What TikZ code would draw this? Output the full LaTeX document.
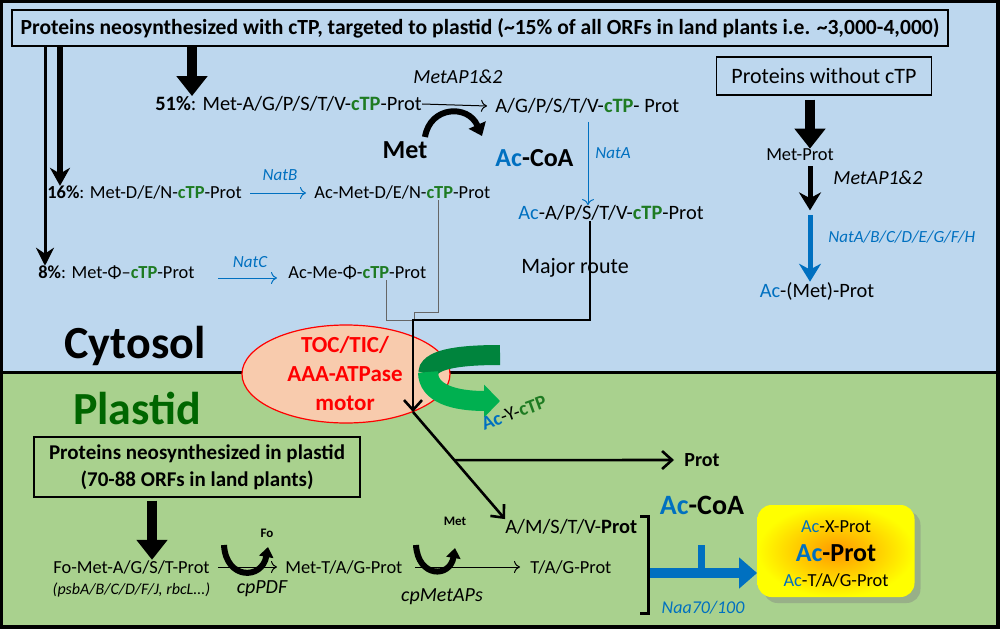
\documentclass[tikz,border=0pt]{standalone}
\usepackage{fontspec}
\setmainfont{Carlito}
\usetikzlibrary{arrows.meta,positioning,shapes.geometric,shadows,calc}

\definecolor{cytoblue}{HTML}{BDD7EE}
\definecolor{plastgreen}{HTML}{A9D18E}
\definecolor{acblue}{HTML}{0070C0}
\definecolor{ctpgreen}{HTML}{1E7B22}
\definecolor{pltxt}{HTML}{006600}
\definecolor{motorfill}{HTML}{F8CBAD}
\definecolor{ribdark}{HTML}{00843D}
\definecolor{riblight}{HTML}{00B050}

\newcommand{\fsz}[1]{\fontsize{#1}{#1}\selectfont}
\newcommand{\Ac}{\textcolor{acblue}{Ac}}
\newcommand{\cTP}{\textcolor{ctpgreen}{\bfseries cTP}}

\tikzset{
  frame/.style={draw, line width=0.6pt, inner sep=0pt},
  txt/.style={inner sep=0pt, font=\fsz{10.2}},
  sml/.style={inner sep=0pt, font=\fsz{9.2}},
  enz/.style={inner sep=0pt, font=\fsz{10}\itshape},
  nat/.style={inner sep=0pt, font=\fsz{8.5}\itshape, text=acblue},
  big/.style={inner sep=0pt, font=\fsz{13}\bfseries},
  blockarr/.style={line width=5pt, -{Triangle[length=10pt,width=15pt]}},
  thinarr/.style={line width=0.5pt, -{To[length=3pt,width=6pt]}},
  natarr/.style={thinarr, acblue},
  route/.style={line width=1.3pt},
  grayln/.style={line width=0.4pt, black!60},
  uarr/.style={line width=3pt, -{Triangle[length=5pt,width=7pt]}}
}

\begin{document}
\begin{tikzpicture}[x=0.5pt,y=-0.5pt]
\useasboundingbox (0,0) rectangle (1000,642);
% compartments
\fill[cytoblue] (0,0) rectangle (1000,372);
\fill[plastgreen] (0,372) rectangle (1000,628);
\draw[line width=1.5pt] (0,372) -- (1000,372);
\draw[line width=2pt] (1,1) rectangle (998,627);
\node[font=\fsz{23}\bfseries, inner sep=0pt] (cyto) at (135,346) {Cytosol};
\node[font=\fsz{23}\bfseries, text=pltxt, inner sep=0pt] (plast) at (137,408) {Plastid};

% cytosol, proteins with cTP
\node[frame, fill=cytoblue, minimum width=468pt, minimum height=18pt, font=\fsz{10.8}\bfseries] (ctpbox) at (480,28)
  {Proteins neosynthesized with cTP, targeted to plastid (\textasciitilde15\% of all ORFs in land plants i.e. \textasciitilde3,000-4,000)};
\node[txt, anchor=west] (m51) at (155,104) {\textbf{51\%}: Met-A/G/P/S/T/V-\cTP-Prot};
\node[txt, anchor=west] (agp) at (495,106) {A/G/P/S/T/V-\cTP- Prot};
\node[enz] (ap12) at (458,77) {MetAP1\&2};
\node[big] (metc) at (405,150) {Met};
\node[big, anchor=west] (acoa) at (495,158) {\Ac-CoA};
\node[nat, anchor=west] (nata) at (595,153) {NatA};
\node[txt, anchor=west] (acap) at (518,213) {\Ac-A/P/S/T/V-\cTP-Prot};
\node[sml, anchor=west] (m16) at (47,193) {\textbf{16\%}: Met-D/E/N-\cTP-Prot};
\node[sml, anchor=west] (acmde) at (314,193) {Ac-Met-D/E/N-\cTP-Prot};
\node[nat] (natb) at (280,175) {NatB};
\node[sml, anchor=west] (m8) at (38,273) {\textbf{8\%}: Met-Φ–\cTP-Prot};
\node[sml, anchor=west] (acmphi) at (288,273) {Ac-Me-Φ-\cTP-Prot};
\node[nat] (natc) at (250,262) {NatC};

\draw[blockarr] (ctpbox.south -| 192,0) -- (m51.north -| 192,0);
\draw[line width=1.5pt, -{Stealth[length=9pt,width=9pt]}] (ctpbox.south -| 45,0) -- (m8.north -| 45,0);
\draw[line width=3pt, -{Stealth[length=9pt,width=10pt]}] (ctpbox.south -| 60,0) -- (m16.north -| 60,0);
\draw[thinarr] (m51.east) -- ([xshift=-4pt]agp.west);
\draw[line width=3pt, -{Triangle[length=6pt,width=9pt]}] (425,137) .. controls (430,106) and (468,104) .. (482,136);
\draw[natarr] (agp.south -| 588,0) ++(0,8) -- (acap.north -| 588,0);
\draw[natarr] ([xshift=4pt]m16.east) -- ([xshift=-4pt]acmde.west);
\draw[natarr] (218,278) -- (277,278);

% cytosol, proteins without cTP
\node[frame, fill=cytoblue, minimum width=107.5pt, minimum height=19pt, font=\fsz{11}] (nocTP) at (824,76) {Proteins without cTP};
\node[sml] (metprot) at (800,155) {Met-Prot};
\node[enz, anchor=west] (ap12b) at (833,178) {MetAP1\&2};
\node[nat, anchor=west] (natall) at (828,237) {NatA/B/C/D/E/G/F/H};
\node[txt] (acmet) at (817,291) {\Ac-(Met)-Prot};
\draw[blockarr] (nocTP.south -| 810,0) ++(0,4) -- (metprot.north -| 810,0);
\draw[line width=2.5pt, -{Stealth[length=9pt,width=11pt]}] (metprot.south -| 810,0) ++(0,5) -- ++(0,44);
\draw[line width=2.5pt, acblue, -{Stealth[length=9pt,width=11pt]}] (810,215) -- (acmet.north -| 810,0);

% import machinery
\node[ellipse, draw=red, line width=0.6pt, fill=motorfill, minimum width=104pt, minimum height=49pt] (motor) at (346,374) {};
\node[font=\fontsize{11.5}{14.5}\selectfont\bfseries, text=red, align=center, inner sep=0pt] (motortxt) at (345,374) {TOC/TIC/\\AAA-ATPase\\motor};
\draw[grayln] (acmde.south -| 438,0) -- (438,312) -- (414,312) -- (414,320);
\draw[grayln] (acmphi.south -| 386,0) -- (386,320) -- (413,320);
\coordinate (tip) at (413,412);
\draw[route, -{Straight Barb[length=5pt,width=9pt]}] (acap.south -| 590,0) -- (590,320) -| (tip);
\node[txt, font=\fsz{11}] (major) at (575,268) {Major route};
\draw[ribdark, line width=10pt] (500,355) .. controls (455,355) and (428,360) .. (428,374);
\draw[riblight, line width=10pt, -{Triangle[length=8pt,width=16pt]}] (428,372) .. controls (428,394) and (455,401) .. (500,401);
\node[sml, font=\fsz{9.8}, rotate=20] (acy) at (514,413) {\textbf{\Ac}-Y-\cTP};

% plastid
\node[frame, align=center, minimum width=163pt, minimum height=30pt, font=\fontsize{10.5}{13.5}\selectfont\bfseries] (plbox) at (197,467)
  {Proteins neosynthesized in plastid\\(70-88 ORFs in land plants)};
\node[sml, anchor=west] (fomet) at (53,567) {Fo-Met-A/G/S/T-Prot};
\node[inner sep=0pt, font=\fsz{8}\itshape, below=4pt of fomet] (psba) {(psbA/B/C/D/F/J, rbcL...)};
\node[sml, anchor=west] (mettag) at (285,567) {Met-T/A/G-Prot};
\node[enz] (cppdf) at (262,589) {cpPDF};
\node[inner sep=0pt, font=\fsz{6.5}\bfseries] (fo) at (267,533) {Fo};
\node[sml, anchor=west] (tag) at (530,567) {T/A/G-Prot};
\node[enz] (cpmet) at (442,597) {cpMetAPs};
\node[inner sep=0pt, font=\fsz{6.5}\bfseries] (metp) at (455,521) {Met};
\node[txt, anchor=west] (amstv) at (505,527) {A/M/S/T/V-\textbf{Prot}};
\node[inner sep=0pt, font=\fsz{10}\bfseries] (prot) at (702,460) {Prot};
\draw[blockarr] (plbox.south -| 152,0) ++(0,3) -- (fomet.north -| 152,0);
\draw[thinarr] ([xshift=4pt]fomet.east) -- ([xshift=-4pt]mettag.west);
\draw[uarr] (224,545) .. controls (226,580) and (262,580) .. (268,547);
\draw[thinarr] ([xshift=6pt]mettag.east) -- ([xshift=-5pt]tag.west);
\draw[uarr] (416,545) .. controls (418,578) and (450,578) .. (455,548);
\draw[route, -{Straight Barb[length=5pt,width=9pt]}] (tip) -- (amstv.north west);
\coordinate (br) at ($(tip)!0.45!(amstv.north west)$);
\draw[route, -{Straight Barb[length=5pt,width=9pt]}] (br) -- ([xshift=-5pt]prot.west);

% acetylation in plastid
\coordinate (brk) at (650,573);
\draw[line width=1.5pt] (640,516) -- (648,516) -- (648,613) -- (640,613);
\draw[line width=1.5pt] (648,573) -- (brk);
\node[big, font=\fsz{14}\bfseries] (acoa2) at (702,505) {\Ac-CoA};
\node[nat, font=\fsz{9}\itshape] (naa) at (703,608) {Naa70/100};
\node[draw=none, rounded corners=7pt, minimum width=78.5pt, minimum height=46pt, inner color=orange!80!yellow, outer color=yellow,
  drop shadow={shadow xshift=3pt, shadow yshift=-3pt, opacity=0.4}] (acbox) at (836,551) {};
\node[sml] (acx) at (836,527) {\Ac-X-Prot};
\node[inner sep=0pt, font=\fsz{13}\bfseries] (acprot) at (836,553) {\Ac-Prot};
\node[sml] (actag) at (836,580) {\Ac-T/A/G-Prot};
\draw[acblue, line width=5pt, -{Triangle[length=9pt,width=15pt]}] (brk) -- (acbox.west |- brk);
\draw[acblue, line width=3.5pt] (701,545) -- (701,573);
\end{tikzpicture}
\end{document}
